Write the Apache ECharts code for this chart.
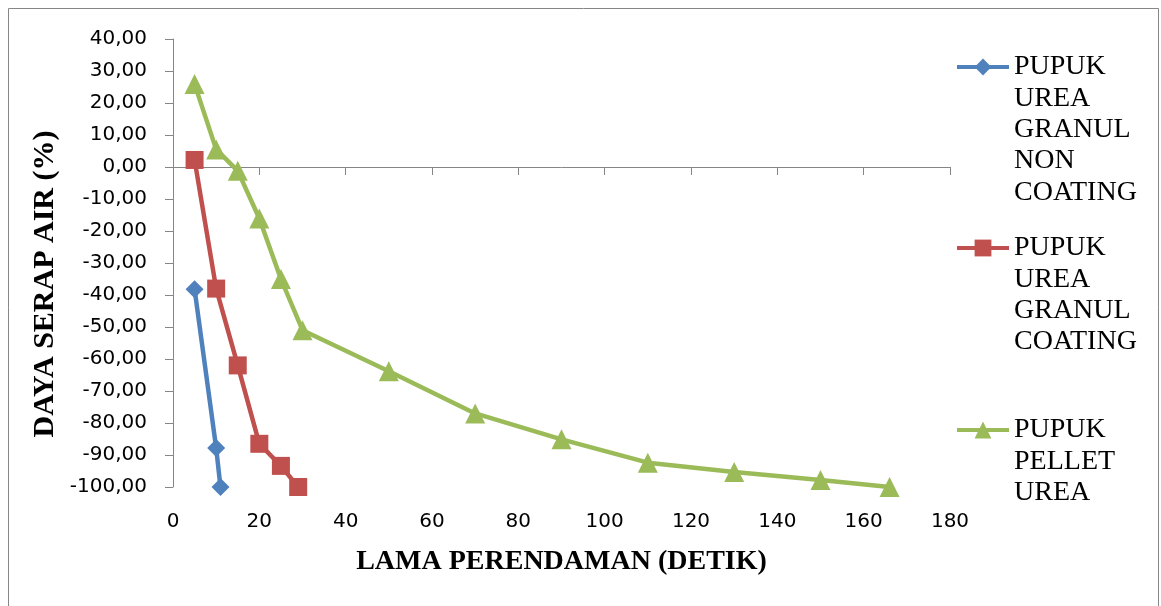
<!DOCTYPE html>
<html>
<head>
<meta charset="utf-8">
<script src="https://cdn.jsdelivr.net/npm/echarts@6/dist/echarts.min.js"></script>
<style>
  html, body { margin: 0; padding: 0; background: #ffffff; }
  #chart { width: 1161px; height: 606px; }
</style>
</head>
<body>
<div id="chart"></div>
<script>
// Series names (legend labels)
const seriesNames = [
  'PUPUK UREA GRANUL NON COATING',
  'PUPUK UREA GRANUL COATING',
  'PUPUK PELLET UREA'
];

// Soaking time (seconds) and water absorption (%) per fertilizer type
const nonCoatingTime   = [5, 10, 11];
const nonCoatingAbsorb = [-38.2, -87.8, -100];

const coatingTime   = [5, 10, 15, 20, 25, 29];
const coatingAbsorb = [2.2, -38, -62, -86.5, -93.4, -100];

const pelletTime   = [5, 10, 15, 20, 25, 30, 50, 70, 90, 110, 130, 150, 166];
const pelletAbsorb = [25.9, 5.5, -1.2, -16.1, -35, -51, -63.8, -77, -85.1, -92.4, -95.3, -97.8, -100];

// Axis titles
const xTitle = 'LAMA PERENDAMAN (DETIK)';
const yTitle = 'DAYA SERAP AIR (%)';

const times   = [nonCoatingTime, coatingTime, pelletTime];
const absorbs = [nonCoatingAbsorb, coatingAbsorb, pelletAbsorb];

const colors      = ['#4F81BD', '#C0504D', '#9BBB59'];
const symbols     = ['diamond', 'rect', 'triangle'];
const symbolSizes = [18, 18, 20];

const LINE_H = 31.3;
const legendIconY = [67, 248, 430];

function pairs(xs, ys) {
  return xs.map((x, i) => [x, ys[i]]);
}

// One legend block per series; blank leading lines keep the icon on the first text line
const legends = seriesNames.map((name, i) => {
  const n = name.split(' ').length;
  return {
    data: [name],
    orient: 'vertical',
    left: 955,
    top: legendIconY[i] - (2 * n - 1) * LINE_H / 2,
    padding: 0,
    itemWidth: 52,
    itemHeight: 21,
    selectedMode: false,
    lineStyle: { width: 4 },
    formatter: (nm) => {
      const parts = nm.split(' ');
      return '\n'.repeat(parts.length - 1) + parts.join('\n');
    },
    textStyle: {
      fontFamily: 'Liberation Serif',
      fontSize: 28,
      lineHeight: LINE_H,
      color: '#000000'
    }
  };
});

const chart = echarts.init(document.getElementById('chart'), null, { renderer: 'canvas' });

chart.setOption({
  animation: false,
  backgroundColor: '#ffffff',
  grid: { left: 173, top: 39, right: 211, bottom: 119, containLabel: false },
  legend: legends,
  xAxis: [
    {
      // Labels and title along the bottom edge
      type: 'value',
      min: 0, max: 180, interval: 20,
      position: 'bottom',
      axisLine: { show: false, onZero: false },
      axisTick: { show: false },
      splitLine: { show: false },
      axisLabel: { margin: 25, fontFamily: 'DejaVu Sans', fontSize: 20, color: '#000000' },
      name: xTitle,
      nameLocation: 'middle',
      nameGap: 61,
      nameTextStyle: { fontFamily: 'Liberation Serif', fontWeight: 'bold', fontSize: 28, color: '#000000' }
    },
    {
      // Axis line with ticks crossing at y = 0
      type: 'value',
      min: 0, max: 180, interval: 20,
      position: 'bottom',
      axisLine: { show: true, onZero: true, lineStyle: { color: '#868686', width: 1 } },
      axisTick: { show: true, inside: false, length: 8, lineStyle: { color: '#868686', width: 1 } },
      axisLabel: { show: false },
      splitLine: { show: false }
    }
  ],
  yAxis: {
    type: 'value',
    min: -100, max: 40, interval: 10,
    axisLine: { show: true, onZero: false, lineStyle: { color: '#868686', width: 1 } },
    axisTick: { show: true, inside: false, length: 8, lineStyle: { color: '#868686', width: 1 } },
    splitLine: { show: false },
    axisLabel: {
      margin: 26,
      fontFamily: 'DejaVu Sans',
      fontSize: 20,
      color: '#000000',
      formatter: (v) => v.toFixed(2).replace('.', ',')
    }
  },
  graphic: [
    {
      type: 'rect',
      silent: true,
      z: -10,
      shape: { x: 8.5, y: 8.5, width: 1150, height: 700 },
      style: { fill: 'none', stroke: '#868686', lineWidth: 1 }
    },
    {
      type: 'text',
      x: 45, y: 284,
      rotation: Math.PI / 2,
      style: {
        text: yTitle,
        fontFamily: 'Liberation Serif',
        fontWeight: 'bold',
        fontSize: 30,
        fill: '#000000',
        align: 'center',
        verticalAlign: 'middle'
      }
    }
  ],
  series: seriesNames.map((name, i) => ({
    name: name,
    type: 'line',
    xAxisIndex: 0,
    yAxisIndex: 0,
    data: pairs(times[i], absorbs[i]),
    symbol: symbols[i],
    symbolSize: symbolSizes[i],
    showSymbol: true,
    lineStyle: { width: 4.5, color: colors[i] },
    itemStyle: { color: colors[i] },
    emphasis: { disabled: true },
    z: 2 + i
  }))
});
</script>
</body>
</html>
